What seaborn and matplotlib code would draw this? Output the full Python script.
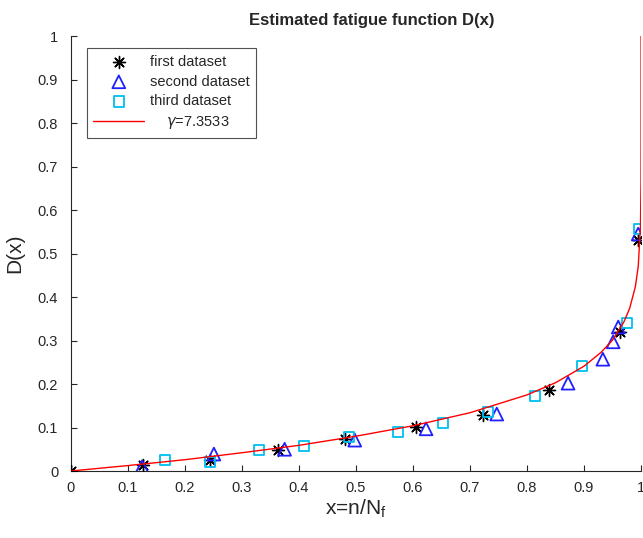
import numpy as np
import pandas as pd
import matplotlib
matplotlib.use("Agg")
import matplotlib.pyplot as plt
import seaborn as sns

# data
first_x = [0.0, 0.126, 0.244, 0.363, 0.481, 0.605, 0.722, 0.839, 0.963, 0.995]
first_y = [0.0, 0.014, 0.025, 0.048, 0.073, 0.101, 0.129, 0.186, 0.320, 0.532]

second_x = [0.125, 0.251, 0.375, 0.498, 0.623, 0.747, 0.872, 0.933, 0.951, 0.960, 0.995]
second_y = [0.010, 0.039, 0.050, 0.071, 0.097, 0.131, 0.202, 0.257, 0.297, 0.331, 0.545]

third_x = [0.165, 0.244, 0.330, 0.409, 0.488, 0.574, 0.653, 0.732, 0.814, 0.896, 0.975, 0.997]
third_y = [0.025, 0.021, 0.048, 0.057, 0.078, 0.090, 0.110, 0.135, 0.172, 0.241, 0.340, 0.556]

# fitted curve, gamma = 7.3533
curve_x = [0.0, 0.1, 0.2, 0.3, 0.4, 0.5, 0.6, 0.7, 0.8, 0.85, 0.9, 0.93, 0.95,
           0.97, 0.98, 0.99, 0.995, 0.999, 0.9999, 0.99999, 1.0]
curve_y = [0.0, 0.0125, 0.026, 0.042, 0.059, 0.080, 0.104, 0.134, 0.175, 0.203,
           0.241, 0.273, 0.301, 0.343, 0.374, 0.424, 0.470, 0.563, 0.668, 0.747, 1.0]

tick_labels = ['0', '0.1', '0.2', '0.3', '0.4', '0.5', '0.6', '0.7', '0.8', '0.9', '1']

sns.set_style("white")
plt.rcParams['font.family'] = ['Liberation Sans', 'DejaVu Sans']
plt.rcParams['mathtext.fontset'] = 'dejavusans'

fig = plt.figure(figsize=(6.43, 5.38), dpi=100)
ax = fig.add_axes([0.110, 0.1245, 0.887, 0.8085])

sns.scatterplot(x=first_x, y=first_y, ax=ax, marker=(8, 2, 0), s=75,
                color='black', linewidth=1.0, label='first dataset', zorder=3)
sns.scatterplot(x=second_x, y=second_y, ax=ax, marker='^', s=85,
                facecolor='none', edgecolor='#2020ff', linewidth=1.3,
                label='second dataset', zorder=3)
sns.scatterplot(x=third_x, y=third_y, ax=ax, marker='s', s=55,
                facecolor='none', edgecolor='#00bff0', linewidth=1.3,
                label='third dataset', zorder=3)
sns.lineplot(x=curve_x, y=curve_y, ax=ax, color='red', linewidth=1.0,
             label='    $\\gamma$=7.3533', sort=False, zorder=4)

ax.set_xlim(0, 1)
ax.set_ylim(0, 1)
ax.set_xticks(np.arange(0, 1.01, 0.1))
ax.set_yticks(np.arange(0, 1.01, 0.1))
ax.set_xticklabels(tick_labels)
ax.set_yticklabels(tick_labels)
ax.tick_params(direction='in', length=4, width=0.8, labelsize=10.5, colors='#262626',
               bottom=True, left=True)
ax.tick_params(axis='y', pad=9)
ax.tick_params(axis='x', pad=7)
for side in ['top', 'right']:
    ax.spines[side].set_visible(False)
for side in ['left', 'bottom']:
    ax.spines[side].set_color('#262626')
    ax.spines[side].set_linewidth(0.8)

ax.set_xlabel('x=n/N$_\\mathregular{f}$', fontsize=15, labelpad=2)
ax.set_ylabel('D(x)', fontsize=15, labelpad=10)
ax.set_title('Estimated fatigue function D(x)', fontsize=12, fontweight='bold',
             pad=8, x=0.528)

leg = ax.legend(loc='upper left', bbox_to_anchor=(0.028, 0.972), fontsize=10.5,
                frameon=True, fancybox=False, edgecolor='#262626',
                borderaxespad=0, borderpad=0.45, labelspacing=0.4,
                handlelength=3.5, handletextpad=0.4)
leg.get_frame().set_linewidth(0.8)

fig.savefig('out.png', dpi=100)
